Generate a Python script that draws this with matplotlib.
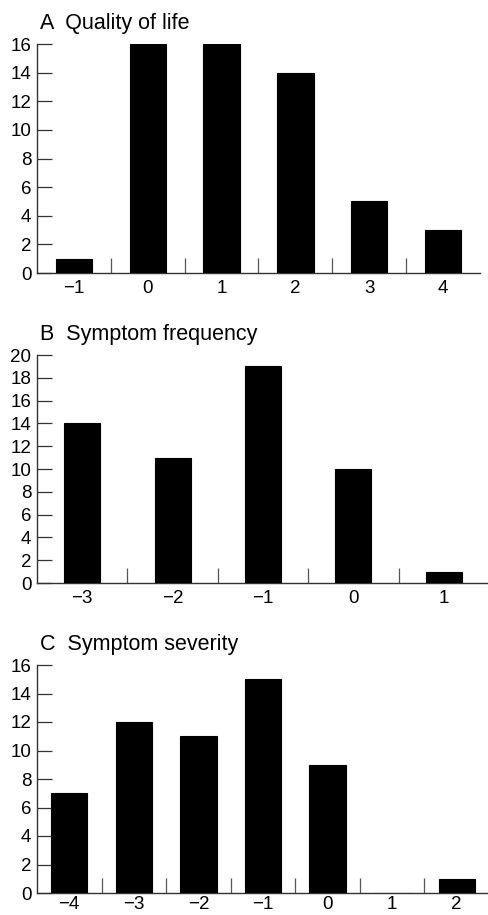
"""
Change-score distributions: quality of life, symptom frequency, symptom severity
"""

import matplotlib
matplotlib.use('Agg')
import matplotlib.pyplot as plt
import numpy as np

plt.rcParams['font.family'] = ['Liberation Sans', 'DejaVu Sans']

# data
qol_labels = ['\u22121', '0', '1', '2', '3', '4']
qol_counts = [1, 16, 16, 14, 5, 3]

freq_labels = ['\u22123', '\u22122', '\u22121', '0', '1']
freq_counts = [14, 11, 19, 10, 1]

sev_labels = ['\u22124', '\u22123', '\u22122', '\u22121', '0', '1', '2']
sev_counts = [7, 12, 11, 15, 9, 0, 1]

W, H = 489, 915
AXIS_COLOR = '#333333'


def draw_panel(fig, box, title, title_y, labels, counts, ymax, bar_width, xpad=5):
    """box = (left_px, top_px, right_px, bottom_px)"""
    l, t, r, b = box
    ax = fig.add_axes([l / W, 1 - b / H, (r - l) / W, (b - t) / H])
    x = np.arange(len(labels))
    ax.bar(x, counts, width=bar_width, color='black', edgecolor='black',
           linewidth=0.8, zorder=3)

    ax.set_xlim(-0.5, len(labels) - 0.5)
    ax.set_ylim(0, ymax)
    ax.set_yticks(np.arange(0, ymax + 1, 2))

    # category labels without ticks, boundary ticks pointing up
    ax.set_xticks(x)
    ax.set_xticklabels(labels)
    ax.set_xticks(x[:-1] + 0.5, minor=True)
    ax.tick_params(axis='x', which='major', length=0, pad=xpad, labelsize=13.5)
    ax.tick_params(axis='x', which='minor', direction='in', length=10.5,
                   width=0.9, color='#555555')
    ax.tick_params(axis='y', direction='in', length=11, width=0.9,
                   color=AXIS_COLOR, pad=4, labelsize=13.5)

    for side in ['top', 'right']:
        ax.spines[side].set_visible(False)
    for side in ['left', 'bottom']:
        ax.spines[side].set_color(AXIS_COLOR)
        ax.spines[side].set_linewidth(1.0)
    ax.set_facecolor('none')

    fig.text(40 / W, 1 - title_y / H, title, fontsize=15.5, va='baseline', ha='left')
    return ax


fig = plt.figure(figsize=(W / 100, H / 100), dpi=100)

draw_panel(fig, (37, 44, 480, 273), 'A  Quality of life', 29,
           qol_labels, qol_counts, 16, 0.49)
draw_panel(fig, (37, 355, 489, 583), 'B  Symptom frequency', 340,
           freq_labels, freq_counts, 20, 0.40)
draw_panel(fig, (37, 665, 489, 893), 'C  Symptom severity', 650,
           sev_labels, sev_counts, 16, 0.56, xpad=2)

plt.savefig('out.png', dpi=100)
